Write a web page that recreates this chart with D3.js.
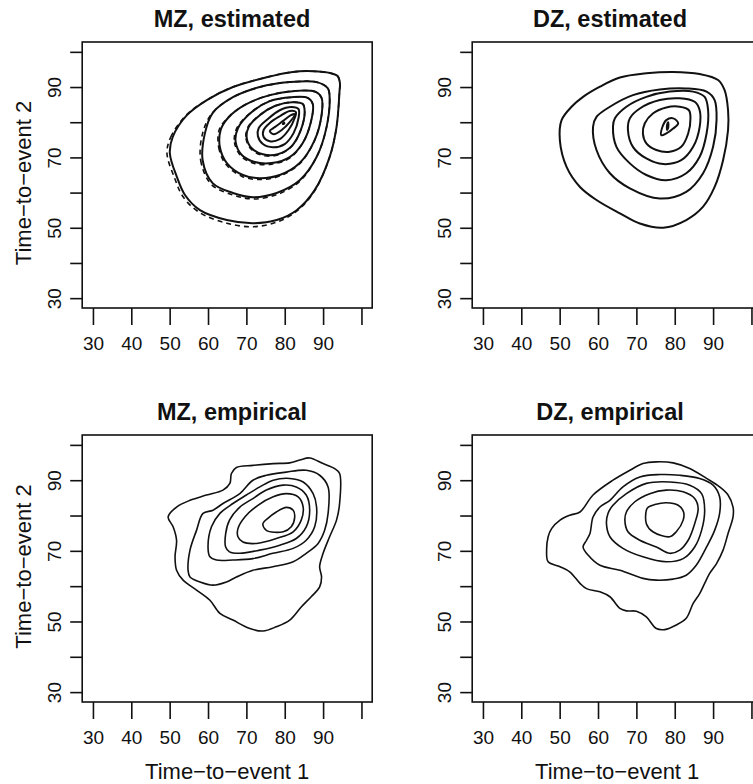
<!DOCTYPE html>
<html>
<head>
<meta charset="utf-8">
<script src="https://cdn.jsdelivr.net/npm/d3@7"></script>
<style>
body { margin: 0; background: #fff; }
svg { display: block; }
text { font-family: "Liberation Sans", Arial, Helvetica, sans-serif; fill: #111; }
</style>
</head>
<body>
<svg id="chart" width="753" height="784"></svg>
<script>
'use strict';

// axis ticks (R style: every 10, some labels dropped)
var xTicks = [30, 40, 50, 60, 70, 80, 90, 100];
var xTickLabels = [30, 40, 50, 60, 70, 80, 90];
var yTicks = [30, 40, 50, 60, 70, 80, 90, 100];
var yTickLabels = [30, 50, 70, 90];
var axisDomain = [27.2, 102.8];

// MZ, estimated: solid contours (time-to-event 1, time-to-event 2)
var mzEstSolid = [
	[[50.05,71.2],[50.8,75.8],[54.5,82.0],[59.7,86.3],[66.5,90.0],[75.3,92.8],[82.1,94.3],[87.3,94.5],[91.8,94.0],[93.8,93.1],[94.4,91.0],[94.3,89.1],[93.5,78.6],[91.7,70.1],[87.8,60.7],[83.1,55.0],[77.9,52.2],[71.7,51.3],[64.9,52.2],[57.9,55.0],[54.0,59.3],[51.9,64.4]],
	[[59.2,76.9],[58.6,69.2],[61.2,62.7],[66.5,59.9],[71.7,58.7],[77.9,59.9],[83.9,63.5],[88.3,70.1],[90.9,78.6],[91.7,87.1],[91.2,89.7],[88.3,91.4],[81.3,91.4],[73.5,90.0],[66.5,87.1],[61.2,82.6]],
	[[63.3,77.8],[63.1,72.9],[64.9,68.4],[69.1,65.0],[73.5,64.1],[78.7,65.0],[83.9,68.4],[87.8,74.9],[89.6,82.0],[89.6,86.9],[88.1,88.6],[82.6,88.9],[76.1,87.7],[69.6,84.9],[65.2,81.2]],
	[[67.8,78.3],[67.2,74.4],[68.8,70.7],[72.2,68.7],[76.6,68.4],[81.3,70.1],[84.7,74.1],[86.8,80.0],[87.3,85.2],[86.0,86.9],[81.8,87.1],[76.1,86.0],[71.4,82.9]],
	[[70.6,78.6],[70.1,75.5],[71.4,72.6],[74.3,70.9],[78.2,70.9],[81.8,73.2],[84.2,77.8],[85.2,82.9],[84.7,85.2],[81.8,85.7],[77.4,84.6],[73.5,82.0]],
	[[73.2,78.3],[73.0,76.1],[74.3,73.8],[76.9,72.9],[80.0,73.8],[82.3,76.9],[83.6,81.2],[83.6,83.7],[81.8,84.3],[78.7,83.4],[75.6,80.9]],
	[[74.5,77.8],[74.5,75.8],[76.1,74.6],[78.7,75.2],[81.0,77.8],[82.6,81.2],[82.9,82.9],[81.3,83.2],[78.7,81.7],[76.1,79.8]],
	[[76.1,77.5],[77.1,76.6],[79.2,77.8],[81.3,80.0],[82.6,82.3],[81.6,82.0],[79.5,80.3],[77.4,78.6]],
	[[79.5,79.5],[79.9,79.6],[79.8,79.9]]
];

// MZ, estimated: dashed contours
var mzEstDashed = [
	[[49.3,71.2],[50.3,75.8],[54.3,82.0],[59.7,86.3],[66.5,90.0],[75.3,92.8],[82.1,94.3],[87.3,94.5],[91.8,94.0],[93.8,93.1],[94.4,91.0],[94.3,89.1],[93.5,78.6],[91.7,70.1],[87.8,60.5],[83.1,54.7],[77.9,51.6],[71.7,50.3],[64.9,51.3],[57.7,54.4],[53.5,58.8],[51.3,64.1]],
	[[58.6,76.9],[58.1,69.1],[60.8,62.4],[66.3,59.4],[71.7,58.2],[77.9,59.4],[83.9,63.2],[88.3,70.1],[90.9,78.6],[91.7,87.1],[91.2,89.7],[88.3,91.4],[81.3,91.4],[73.5,90.0],[66.5,87.1],[61.1,82.6]],
	[[62.9,77.8],[62.8,72.8],[64.6,68.1],[68.9,64.6],[73.5,63.7],[78.7,64.7],[83.9,68.2],[87.8,74.9],[89.6,82.0],[89.6,86.9],[88.1,88.6],[82.6,88.9],[76.1,87.7],[69.6,84.9],[65.1,81.2]],
	[[67.5,78.3],[66.9,74.3],[68.6,70.4],[72.1,68.3],[76.6,68.1],[81.3,69.8],[84.7,74.1],[86.8,80.0],[87.3,85.2],[86.0,86.9],[81.8,87.1],[76.1,86.0],[71.3,82.9]],
	[[70.4,78.6],[69.9,75.4],[71.2,72.4],[74.2,70.6],[78.2,70.7],[81.8,73.1],[84.2,77.8],[85.2,82.9],[84.7,85.2],[81.8,85.7],[77.4,84.6],[73.4,82.0]]
];

// DZ, estimated
var dzEstSolid = [
	[[50.5,80.6],[50.05,74.9],[51.8,67.3],[55.3,61.6],[59.6,57.9],[65.7,54.1],[70.9,51.2],[77.0,50.0],[83.0,52.2],[87.4,56.0],[90.4,61.6],[92.6,69.2],[93.9,77.8],[93.9,83.4],[93.0,89.1],[91.3,92.0],[86.5,93.7],[79.6,94.3],[72.6,93.9],[65.7,92.7],[60.5,90.1],[56.1,87.2],[53.1,84.4]],
	[[58.7,78.7],[59.6,72.1],[63.1,65.5],[68.3,61.2],[76.1,58.3],[83.0,60.2],[87.4,65.5],[90.0,73.0],[90.9,80.6],[90.4,86.3],[88.3,88.7],[83.0,89.6],[76.1,89.3],[69.1,87.7],[63.1,84.4],[59.6,81.5]],
	[[63.9,78.7],[64.8,73.0],[68.3,68.3],[72.6,65.0],[77.8,63.5],[83.0,65.5],[86.5,70.2],[88.3,76.8],[88.7,83.4],[87.8,87.2],[84.8,88.7],[78.7,88.7],[72.6,87.2],[67.4,84.4],[64.4,81.1]],
	[[67.8,77.8],[69.1,73.0],[72.6,69.7],[77.0,68.1],[81.7,69.2],[84.8,73.0],[86.5,78.7],[86.5,83.4],[85.2,85.8],[81.3,86.8],[76.1,86.3],[70.9,83.9],[68.3,81.1]],
	[[71.7,76.8],[72.6,74.0],[75.2,72.1],[78.7,71.6],[81.7,73.0],[83.5,76.8],[84.1,81.1],[83.7,83.4],[81.3,84.4],[77.8,84.2],[74.3,82.5],[72.2,79.7]],
	[[76.5,76.3],[77.8,76.8],[79.6,78.2],[80.9,79.7],[79.6,81.1],[77.8,80.6],[76.8,78.7]],
	[[78.0,77.8],[78.3,78.5],[78.3,80.0],[78.0,79.2]]
];

// MZ, empirical
var mzEmp = [
	[[49.6,79.6],[50.9,76.8],[51.8,73.0],[51.4,68.3],[51.8,64.5],[53.5,61.7],[57.0,58.9],[60.5,56.0],[63.1,52.3],[66.5,50.4],[70.9,48.0],[74.3,47.3],[77.8,48.5],[81.3,50.4],[84.3,54.1],[86.9,57.0],[89.1,59.8],[89.6,62.6],[89.1,65.5],[90.0,69.3],[91.7,74.0],[93.5,78.7],[94.3,83.4],[94.3,91.9],[93.0,93.3],[90.0,94.7],[86.5,96.3],[83.9,95.7],[81.3,94.9],[77.0,94.7],[71.7,94.2],[67.4,93.6],[66.1,91.9],[65.7,89.1],[63.9,87.2],[59.6,85.8],[55.3,84.3],[51.8,82.4]],
	[[54.8,64.5],[55.3,70.2],[57.0,75.8],[58.7,80.6],[61.3,81.5],[63.9,83.4],[68.3,86.2],[71.7,90.0],[75.2,91.4],[80.4,92.3],[85.6,92.8],[89.1,91.4],[91.3,88.1],[91.3,80.6],[90.4,75.8],[88.7,72.1],[85.6,69.3],[82.2,66.9],[76.9,65.5],[71.7,64.5],[67.4,62.6],[64.8,61.2],[61.3,60.3],[57.9,61.2],[55.3,62.6]],
	[[60.0,71.1],[60.5,68.3],[62.2,67.4],[66.5,67.4],[71.7,67.8],[76.9,69.3],[82.2,70.7],[85.6,73.0],[87.8,76.8],[88.3,82.4],[87.4,86.2],[84.8,89.5],[81.3,90.5],[77.0,90.0],[73.5,88.1],[70.0,85.8],[66.5,83.4],[63.1,80.6],[60.9,76.8]],
	[[64.6,71.1],[65.6,69.7],[68.3,69.3],[73.5,70.2],[78.7,71.6],[83.0,73.5],[85.6,76.8],[86.5,81.5],[85.6,85.8],[83.0,88.1],[79.6,88.6],[75.2,87.2],[71.7,84.8],[68.3,82.4],[65.6,78.7],[64.6,74.9]],
	[[67.8,74.0],[69.1,72.5],[72.6,72.1],[77.8,73.5],[82.2,75.4],[84.3,78.7],[84.8,82.4],[83.5,85.3],[80.4,86.2],[77.0,85.3],[73.0,82.9],[69.6,79.6],[67.8,76.3]],
	[[74.3,77.7],[75.2,75.8],[79.6,75.4],[81.7,76.8],[82.6,79.6],[82.2,81.5],[80.4,82.3],[77.8,81.0],[75.6,79.2]]
];

// DZ, empirical
var dzEmp = [
	[[47.0,74.0],[46.6,70.2],[47.0,66.9],[50.1,65.5],[52.7,64.0],[55.3,60.8],[57.0,59.3],[60.5,58.4],[63.1,57.0],[65.7,53.7],[67.4,53.0],[70.0,52.9],[72.6,51.3],[75.2,48.0],[77.4,47.7],[80.4,49.0],[83.0,50.9],[84.8,55.1],[86.5,57.9],[87.8,60.8],[89.1,63.6],[90.9,66.4],[92.6,70.2],[93.9,74.9],[95.2,79.6],[95.2,82.4],[93.9,85.8],[91.7,88.1],[88.3,90.5],[83.9,93.3],[79.6,94.9],[75.2,95.2],[71.7,94.7],[68.3,92.8],[63.9,90.0],[58.7,85.8],[55.3,81.0],[52.7,80.1],[50.1,78.7],[47.9,76.3]],
	[[56.1,71.1],[57.4,68.8],[60.5,65.9],[65.7,64.5],[71.7,62.2],[75.2,61.7],[79.6,62.0],[83.0,63.1],[85.6,65.9],[88.3,71.1],[90.4,75.8],[91.7,80.6],[91.7,85.3],[90.0,88.6],[86.5,90.5],[81.3,91.4],[76.1,91.6],[70.9,90.9],[66.5,88.1],[63.1,84.3],[60.5,82.4],[58.7,79.6],[57.9,74.9],[57.0,73.0]],
	[[62.2,77.7],[63.1,74.0],[66.5,70.7],[71.7,68.3],[77.8,66.9],[82.2,67.8],[85.2,71.1],[87.0,75.8],[87.8,81.5],[87.0,86.2],[83.9,88.6],[78.7,89.5],[72.6,89.1],[67.4,86.2],[63.9,82.9],[62.6,80.6]],
	[[67.0,78.7],[67.8,75.4],[70.9,73.0],[75.2,71.1],[78.7,69.3],[81.3,70.2],[83.5,73.0],[85.2,77.7],[86.1,82.0],[85.2,84.8],[82.2,86.7],[77.8,87.2],[73.5,86.2],[69.6,83.9],[67.4,81.0]],
	[[72.6,81.5],[72.6,77.7],[74.3,75.4],[78.7,74.0],[80.4,75.4],[82.2,78.7],[82.3,81.0],[80.9,82.9],[77.8,83.6],[74.8,83.1],[73.1,82.4]]
];

var panels = [
	{ title: 'MZ, estimated', left: 82.2, top: 42, height: 266, titleX: 232, yLabel: true, xLabel: false, solid: mzEstSolid, dashed: mzEstDashed, lw: 2 },
	{ title: 'DZ, estimated', left: 472.2, top: 42, height: 266, titleX: 610, yLabel: false, xLabel: false, solid: dzEstSolid, dashed: [], lw: 2 },
	{ title: 'MZ, empirical', left: 82.2, top: 435, height: 267, titleX: 232, yLabel: true, xLabel: true, solid: mzEmp, dashed: [], lw: 1.6 },
	{ title: 'DZ, empirical', left: 472.2, top: 435, height: 267, titleX: 610, yLabel: false, xLabel: true, solid: dzEmp, dashed: [], lw: 1.6 }
];

var svg = d3.select('#chart');

panels.forEach(drawPanel);

function drawPanel(p) {
	var width = 290;
	var x = d3.scaleLinear().domain(axisDomain).range([p.left, p.left + width]);
	var y = d3.scaleLinear().domain(axisDomain).range([p.top + p.height, p.top]);
	var g = svg.append('g');

	var line = d3.line()
		.x(function(d) { return x(d[0]); })
		.y(function(d) { return y(d[1]); })
		.curve(d3.curveCatmullRomClosed.alpha(0.5));

	// contour lines
	g.selectAll('path.solid')
		.data(p.solid)
		.enter().append('path')
		.attr('class', 'solid')
		.attr('d', line)
		.attr('fill', 'none')
		.attr('stroke', '#111')
		.attr('stroke-width', p.lw)
		.attr('stroke-linejoin', 'round');

	g.selectAll('path.dashed')
		.data(p.dashed)
		.enter().append('path')
		.attr('class', 'dashed')
		.attr('d', line)
		.attr('fill', 'none')
		.attr('stroke', '#111')
		.attr('stroke-width', 1.6)
		.attr('stroke-dasharray', '5,4');

	// box
	g.append('rect')
		.attr('x', p.left)
		.attr('y', p.top)
		.attr('width', width)
		.attr('height', p.height)
		.attr('fill', 'none')
		.attr('stroke', '#111')
		.attr('stroke-width', 1.6);

	// x axis
	var xAxis = d3.axisBottom(x)
		.tickValues(xTicks)
		.tickSize(17)
		.tickPadding(12)
		.tickFormat(function(d) { return xTickLabels.indexOf(d) >= 0 ? d : ''; });
	var gx = g.append('g')
		.attr('transform', 'translate(0,' + (p.top + p.height) + ')')
		.call(xAxis);
	gx.select('.domain').remove();
	gx.selectAll('line').attr('stroke', '#111').attr('stroke-width', 1.6);
	gx.selectAll('text')
		.attr('font-size', 19)
		.attr('font-family', '"Liberation Sans", Arial, sans-serif')
		.attr('fill', '#111');

	// y axis, labels turned parallel to the axis
	var yAxis = d3.axisLeft(y)
		.tickValues(yTicks)
		.tickSize(12)
		.tickFormat(function(d) { return yTickLabels.indexOf(d) >= 0 ? d : ''; });
	var gy = g.append('g')
		.attr('transform', 'translate(' + p.left + ',0)')
		.call(yAxis);
	gy.select('.domain').remove();
	gy.selectAll('line').attr('stroke', '#111').attr('stroke-width', 1.6);
	gy.selectAll('text')
		.attr('transform', 'rotate(-90)')
		.attr('x', 0)
		.attr('y', -21)
		.attr('dy', 0)
		.attr('text-anchor', 'middle')
		.attr('font-size', 19)
		.attr('font-family', '"Liberation Sans", Arial, sans-serif')
		.attr('fill', '#111');

	// title
	g.append('text')
		.attr('x', p.titleX)
		.attr('y', p.top - 15)
		.attr('text-anchor', 'middle')
		.attr('font-weight', 'bold')
		.attr('font-size', 23.5)
		.text(p.title);

	if (p.yLabel) {
		var cy = p.top + p.height / 2 + (p.top < 100 ? 8 : -2);
		g.append('text')
			.attr('transform', 'translate(31,' + cy + ') rotate(-90)')
			.attr('text-anchor', 'middle')
			.attr('font-size', 22)
			.text('Time\u2212to\u2212event 2');
	}
	if (p.xLabel) {
		g.append('text')
			.attr('x', p.left + width / 2)
			.attr('y', 779)
			.attr('text-anchor', 'middle')
			.attr('font-size', 22)
			.text('Time\u2212to\u2212event 1');
	}
}
</script>
</body>
</html>
